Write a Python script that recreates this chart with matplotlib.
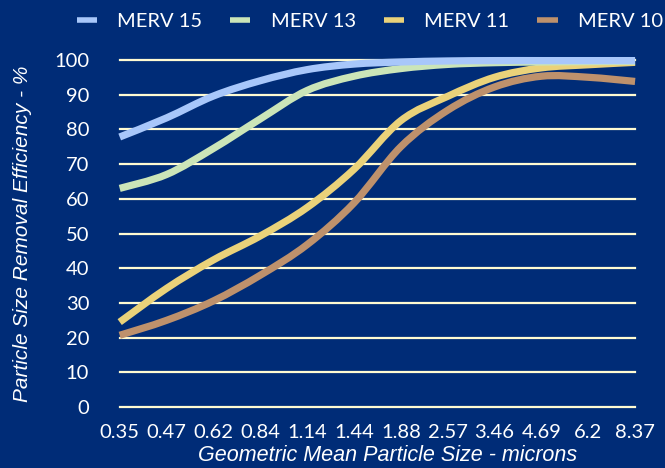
import matplotlib
matplotlib.use("Agg")
import matplotlib.pyplot as plt
from matplotlib.lines import Line2D
from matplotlib.path import Path
from matplotlib.patches import PathPatch

# ---------------------------------------------------------------- palette
NAVY = "#002C77"
CREAM = "#FFFBD2"
WHITE = "#FFFFFF"
C15 = "#A8C7FA"
C13 = "#CBE5B8"
C11 = "#EAD27A"
C10 = "#BE916C"

# ---------------------------------------------------------------- data
sizes = ["0.35", "0.47", "0.62", "0.84", "1.14", "1.44",
         "1.88", "2.57", "3.46", "4.69", "6.2", "8.37"]
merv15 = [77.8, 83.3, 89.6, 94, 97.2, 98.8, 99.4, 99.7, 99.8, 99.8, 99.8, 99.8]
merv13 = [63, 67, 74.5, 83, 91.2, 95.3, 97.5, 98.7, 99.2, 99.4, 99.5, 99.6]
merv11 = [24.5, 34.2, 42.4, 49.3, 57.5, 68.5, 82.5, 89.5, 95, 97.7, 98.6, 99.3]
merv10 = [20.7, 25, 30.6, 38, 46.8, 58.8, 75, 85.5, 92.2, 95.3, 95, 93.8]

series = [("MERV 15", merv15, C15), ("MERV 13", merv13, C13),
          ("MERV 11", merv11, C11), ("MERV 10", merv10, C10)]


def smooth_path(xs, ys):
    """Spreadsheet-style smoothed line: cubic Bezier through every point."""
    pts = list(zip(xs, ys))
    n = len(pts)
    verts = [pts[0]]
    codes = [Path.MOVETO]
    for i in range(n - 1):
        p0 = pts[max(i - 1, 0)]
        p1 = pts[i]
        p2 = pts[i + 1]
        p3 = pts[min(i + 2, n - 1)]
        c1 = (p1[0] + (p2[0] - p0[0]) / 6, p1[1] + (p2[1] - p0[1]) / 6)
        c2 = (p2[0] - (p3[0] - p1[0]) / 6, p2[1] - (p3[1] - p1[1]) / 6)
        verts += [c1, c2, p2]
        codes += [Path.CURVE4] * 3
    return Path(verts, codes)


plt.rcParams["font.family"] = ["Lato", "DejaVu Sans"]

fig = plt.figure(figsize=(6.65, 4.68), dpi=100, facecolor=NAVY)
ax = fig.add_axes([0.180, 0.130, 0.775, 0.742], facecolor=NAVY)

x = list(range(len(sizes)))
for y in range(0, 101, 10):
    ax.axhline(y, color=CREAM, linewidth=1.6, zorder=1, clip_on=False)

for name, vals, col in series[::-1]:
    patch = PathPatch(smooth_path(x, vals), facecolor="none", edgecolor=col,
                      linewidth=5.2, capstyle="butt", joinstyle="round",
                      zorder=3, clip_on=False)
    ax.add_patch(patch)

ax.set_xlim(0, len(sizes) - 1)
ax.set_ylim(0, 100)
ax.set_xticks(x)
ax.set_xticklabels(sizes)
ax.set_yticks(range(0, 101, 10))
ax.tick_params(length=0, colors=WHITE, labelsize=14.5)
ax.tick_params(axis="x", pad=12)
ax.tick_params(axis="y", pad=22)
for sp in ax.spines.values():
    sp.set_visible(False)

ax.set_xlabel("Geometric Mean Particle Size - microns", color=WHITE,
              fontsize=15.5, style="italic", family="Liberation Sans")
ax.xaxis.set_label_coords(0.52, -0.11)
ax.set_ylabel("Particle Size Removal Efficiency - %", color=WHITE,
              fontsize=15, style="italic", family="Liberation Sans")
ax.yaxis.set_label_coords(-0.17, 0.5)

handles = [Line2D([0], [0], color=c, linewidth=4, solid_capstyle="butt")
           for _, _, c in series]
fig.legend(handles, [n for n, _, _ in series], loc="center",
           bbox_to_anchor=(0.556, 0.955), ncol=4, frameon=False,
           fontsize=14.5, labelcolor=WHITE, handlelength=1.0,
           handletextpad=1.0, columnspacing=1.4)

fig.savefig("out.png", dpi=100, facecolor=NAVY)
